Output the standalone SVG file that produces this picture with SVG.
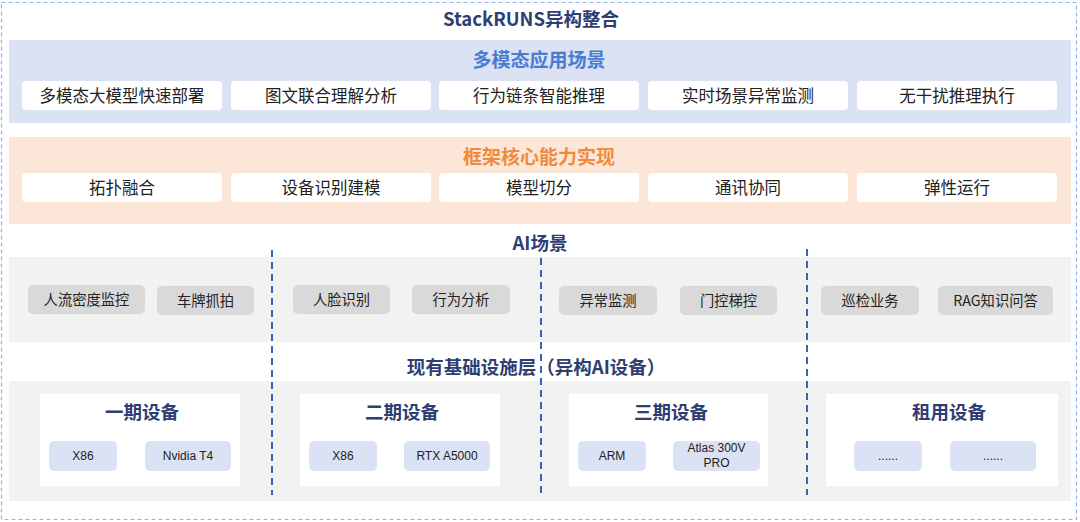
<svg xmlns="http://www.w3.org/2000/svg" width="1080" height="522" viewBox="0 0 1080 522">
<style>
.cjk{font-family:"Noto Sans CJK SC","Noto Sans",sans-serif}
.lat{font-family:"Liberation Sans","Noto Sans CJK SC",sans-serif}
.h{font-weight:bold;fill:#2F3E72;font-size:18.5px;text-anchor:middle}
.wb{fill:#FFFFFF}
.t15{font-size:16.5px;fill:#222;text-anchor:middle}
.t13{font-size:14.3px;fill:#222;text-anchor:middle}
.t12{font-size:12px;fill:#222;text-anchor:middle}
.gp{fill:#D9D9D9}
.bp{fill:#DAE2F3}
.dv{stroke:#3B63B3;stroke-width:2;stroke-dasharray:7 5;fill:none}
</style>
<rect width="1080" height="522" fill="#FFFFFF"/>
<rect x="1.5" y="2.5" width="1075" height="517" fill="none" stroke="#8FB3EC" stroke-width="1.2" stroke-dasharray="4 3"/>
<text class="cjk h" x="531" y="26">StackRUNS异构整合</text>

<g id="app-layer">
<rect x="9" y="40" width="1062" height="83" fill="#DAE2F3"/>
<text class="cjk" x="539" y="67" font-size="19" font-weight="bold" fill="#4A7BD3" text-anchor="middle">多模态应用场景</text>
<rect class="wb" x="22" y="81" width="200" height="29" rx="4"/>
<rect class="wb" x="231" y="81" width="200" height="29" rx="4"/>
<rect class="wb" x="439" y="81" width="200" height="29" rx="4"/>
<rect class="wb" x="648" y="81" width="200" height="29" rx="4"/>
<rect class="wb" x="857" y="81" width="200" height="29" rx="4"/>
<text class="cjk t15" x="122" y="101.5">多模态大模型快速部署</text>
<text class="cjk t15" x="331" y="101.5">图文联合理解分析</text>
<text class="cjk t15" x="539" y="101.5">行为链条智能推理</text>
<text class="cjk t15" x="748" y="101.5">实时场景异常监测</text>
<text class="cjk t15" x="957" y="101.5">无干扰推理执行</text>
</g>

<g id="core-layer">
<rect x="9" y="137" width="1062" height="87" fill="#FCE6D7"/>
<text class="cjk" x="539" y="164" font-size="19" font-weight="bold" fill="#F08A3C" text-anchor="middle">框架核心能力实现</text>
<rect class="wb" x="22" y="173" width="200" height="29" rx="4"/>
<rect class="wb" x="231" y="173" width="200" height="29" rx="4"/>
<rect class="wb" x="439" y="173" width="200" height="29" rx="4"/>
<rect class="wb" x="648" y="173" width="200" height="29" rx="4"/>
<rect class="wb" x="857" y="173" width="200" height="29" rx="4"/>
<text class="cjk t15" x="122" y="193.5">拓扑融合</text>
<text class="cjk t15" x="331" y="193.5">设备识别建模</text>
<text class="cjk t15" x="539" y="193.5">模型切分</text>
<text class="cjk t15" x="748" y="193.5">通讯协同</text>
<text class="cjk t15" x="957" y="193.5">弹性运行</text>
</g>

<g id="ai-layer">
<text class="cjk h" x="540" y="250">AI场景</text>
<rect x="9" y="257" width="1062" height="85" fill="#F2F2F2"/>
<rect class="gp" x="28" y="285" width="117" height="29" rx="5"/>
<rect class="gp" x="157" y="286" width="97" height="29" rx="5"/>
<rect class="gp" x="293" y="285" width="97" height="29" rx="5"/>
<rect class="gp" x="412" y="285" width="98" height="29" rx="5"/>
<rect class="gp" x="559" y="286" width="98" height="29" rx="5"/>
<rect class="gp" x="680" y="286" width="97" height="29" rx="5"/>
<rect class="gp" x="821" y="286" width="98" height="29" rx="5"/>
<rect class="gp" x="938" y="286" width="115" height="29" rx="5"/>
<text class="cjk t13" x="86.5" y="304.5">人流密度监控</text>
<text class="cjk t13" x="205.5" y="305.5">车牌抓拍</text>
<text class="cjk t13" x="341.5" y="304.5">人脸识别</text>
<text class="cjk t13" x="461" y="304.5">行为分析</text>
<text class="cjk t13" x="608" y="305.5">异常监测</text>
<text class="cjk t13" x="728.5" y="305.5">门控梯控</text>
<text class="cjk t13" x="870" y="305.5">巡检业务</text>
<text class="cjk t13" x="995.5" y="305.5">RAG知识问答</text>
</g>

<g id="infra-layer">
<text class="cjk h" x="536" y="374">现有基础设施层（异构AI设备）</text>
<rect x="9" y="381" width="1062" height="120" fill="#F2F2F2"/>
<g id="phase1">
<rect class="wb" x="40" y="394" width="200" height="92"/>
<text class="cjk h" x="142" y="419" font-size="17">一期设备</text>
<rect class="bp" x="49" y="441" width="68" height="30" rx="5"/>
<rect class="bp" x="145" y="441" width="86" height="30" rx="5"/>
<text class="lat t12" x="83" y="460">X86</text>
<text class="lat t12" x="188" y="460">Nvidia T4</text>
</g>
<g id="phase2">
<rect class="wb" x="300" y="394" width="200" height="92"/>
<text class="cjk h" x="402" y="419" font-size="17">二期设备</text>
<rect class="bp" x="309" y="441" width="68" height="30" rx="5"/>
<rect class="bp" x="404" y="441" width="86" height="30" rx="5"/>
<text class="lat t12" x="343" y="460">X86</text>
<text class="lat t12" x="447" y="460">RTX A5000</text>
</g>
<g id="phase3">
<rect class="wb" x="569" y="394" width="199" height="92"/>
<text class="cjk h" x="671" y="419" font-size="17">三期设备</text>
<rect class="bp" x="578" y="441" width="68" height="30" rx="5"/>
<rect class="bp" x="673" y="441" width="87" height="30" rx="5"/>
<text class="lat t12" x="612" y="460">ARM</text>
<text class="lat t12" x="716.5" y="452">Atlas 300V</text>
<text class="lat t12" x="716.5" y="467">PRO</text>
</g>
<g id="rental">
<rect class="wb" x="826" y="394" width="232" height="92"/>
<text class="cjk h" x="949" y="419" font-size="17">租用设备</text>
<rect class="bp" x="854" y="441" width="68" height="30" rx="5"/>
<rect class="bp" x="950" y="441" width="86" height="30" rx="5"/>
<text class="lat t12" x="888" y="460">......</text>
<text class="lat t12" x="993" y="460">......</text>
</g>
</g>

<g id="connectors">
<line class="dv" x1="272" y1="250" x2="272" y2="495"/>
<line class="dv" x1="541" y1="258" x2="541" y2="495"/>
<line class="dv" x1="807" y1="249" x2="807" y2="495"/>
</g>
</svg>
